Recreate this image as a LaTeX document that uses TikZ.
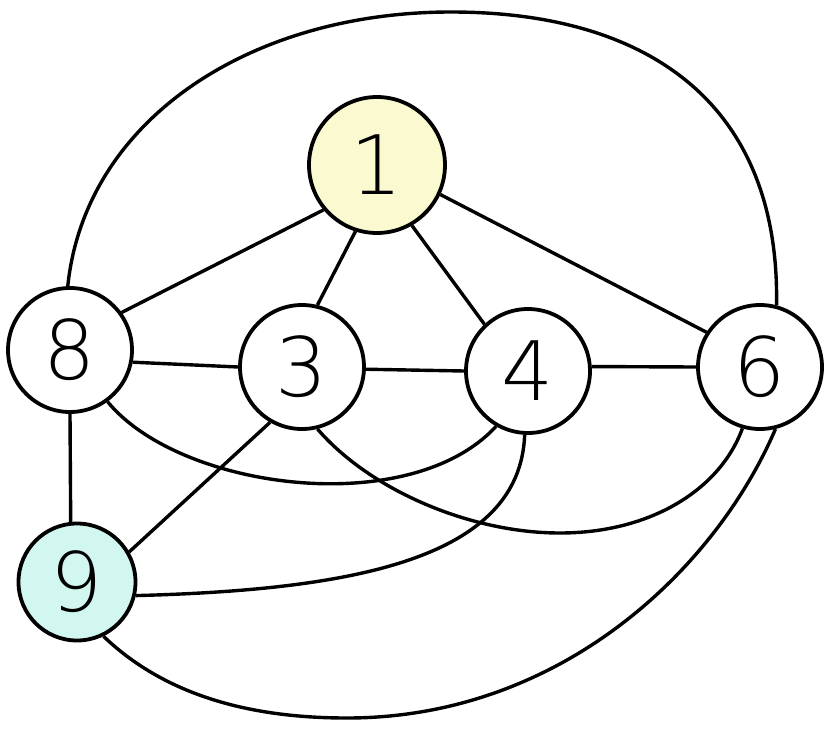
\documentclass[tikz,border=0pt]{standalone}
\usepackage{fontspec}
\newfontfamily\digitfont{DejaVu Sans ExtraLight}
\definecolor{yellowfill}{HTML}{FBF9CF}
\definecolor{cyanfill}{HTML}{D2F7F1}
\begin{document}
\begin{tikzpicture}[x=1pt,y=-1pt,
  vtx/.style={circle, draw, line width=3.8pt, inner sep=0pt, minimum size=124pt,
    font=\digitfont\fontsize{82}{82}\selectfont},
  edge/.style={line width=3.4pt}]
\useasboundingbox (0,0) rectangle (837,736);
\fill[white] (0,0) rectangle (837,736);
\node[vtx, fill=yellowfill, minimum size=136pt] (n1) at (377,165) {1};
\node[vtx] (n8) at (70,350) {8};
\node[vtx] (n3) at (302,367) {3};
\node[vtx] (n4) at (528,371) {4};
\node[vtx] (n6) at (760,367) {6};
\node[vtx, fill=cyanfill, minimum size=117pt] (n9) at (77,582) {9};
\coordinate (top) at (451,12);
\coordinate (b36) at (560,533);
\coordinate (bot) at (347,718);
\draw[edge] (n1.220) -- (n8.36);
\draw[edge] (n1.-108) -- (n3.76);
\draw[edge] (n1.-60) -- (n4.133);
\draw[edge] (n1.-25) -- (n6.147);
\draw[edge] (n8.-11) -- (n3.180);
\draw[edge] (n3.-2) -- (n4.180);
\draw[edge] (n4.4) -- (n6.180);
\draw[edge] (n8.-90) -- (n9.96);
\draw[edge] (n3.-120) -- (n9.30);
\draw[edge] (n8.-54) .. controls (180,490) and (410,520) .. (n4.-120);
\draw[edge] (n3.-76) .. controls (370,490) and (470,533) .. (b36) .. controls (650,533) and (720,490) .. (n6.-106);
\draw[edge] (n4.-93) .. controls (520,560) and (350,590) .. (n9.-13);
\draw[edge] (n8.92) .. controls (85,120) and (250,12) .. (top) .. controls (650,12) and (780,105) .. (n6.75);
\draw[edge] (n9.-64) .. controls (170,700) and (260,718) .. (bot) .. controls (560,718) and (715,570) .. (n6.-76);
\end{tikzpicture}
\end{document}
